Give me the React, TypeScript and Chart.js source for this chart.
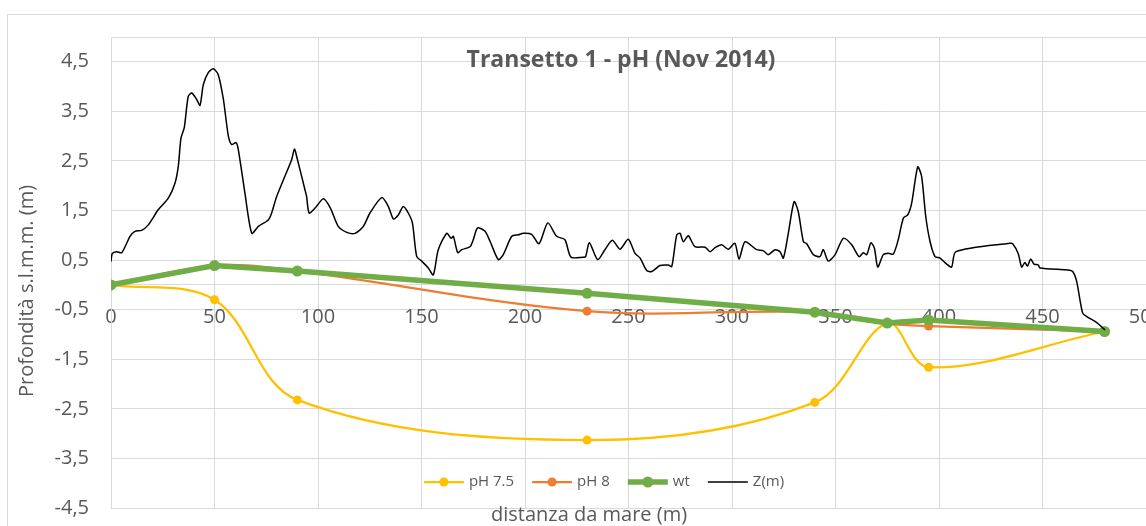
import React, { useEffect, useRef } from 'react';
import { Chart, registerables } from 'chart.js';

Chart.register(...registerables);

const FONT = "'Open Sans', 'Noto Sans', sans-serif";
const TEXT = '#595959';
const GRID = '#d9d9d9';

const TITLE = 'Transetto 1 - pH (Nov 2014)';
const X_TITLE = 'distanza da mare (m)';
const Y_TITLE = 'Profondità s.l.m.m. (m)';

// sampling distances of the pH / water-table profiles (m)
const phDist = [0, 50, 90, 230, 340, 375, 395, 480];
const ph75 = [0, -0.3, -2.32, -3.13, -2.37, -0.77, -1.66, -0.94];
const ph8 = [0, 0.39, 0.28, -0.53, -0.55, -0.78, -0.83, -0.94];
const wt = [0, 0.39, 0.28, -0.17, -0.55, -0.77, -0.71, -0.94];

// topographic profile Z(m)
const zDist = [
  0, 0.6, 2.7, 5.2, 9.2, 11.6, 14.8, 18.0, 22.9, 27.7, 30.9, 32.5, 33.8, 35.4, 37.3, 39.0, 41.4, 43.0, 44.6, 47.0,
  49.4, 51.8, 54.3, 56.7, 58.3, 60.4, 61.5, 64.7, 68.0, 71.2, 76.0, 77.6, 80.0, 84.0, 87.3, 88.6, 89.7, 93.7, 94.5, 95.7,
  98.6, 102.6, 106.0, 109.8, 113.9, 117.9, 121.9, 125.1, 130.8, 134.0, 136.4, 138.8, 141.2, 143.6, 145.6, 147.7, 150.1, 153.3, 155.7, 158.1,
  162.2, 164.3, 165.4, 167.5, 169.4, 173.4, 175.0, 177.1, 180.7, 183.1, 187.1, 189.5, 193.6, 196.8, 199.2, 203.2, 206.8, 211.0, 215.3, 219.3,
  222.2, 228.2, 229.3, 231.1, 235.1, 238.6, 242.2, 245.9, 249.9, 253.1, 255.6, 258.8, 261.2, 265.2, 269.2, 270.9, 273.3, 274.9, 276.5, 278.9,
  282.1, 287.0, 289.4, 291.8, 295.0, 298.2, 301.4, 303.4, 306.3, 311.9, 315.1, 317.5, 320.8, 323.2, 324.8, 327.2, 330.0, 332.0, 334.5, 336.1,
  339.3, 342.5, 344.1, 346.5, 349.8, 353.8, 357.8, 361.4, 363.4, 365.1, 367.1, 368.8, 370.4, 373.1, 375.5, 377.9, 380.3, 382.8, 384.9, 386.8,
  389.7, 391.6, 393.6, 395.7, 398.1, 400.5, 403.7, 406.1, 408.2, 434.3, 435.6, 438.3, 439.9, 441.5, 442.7, 444.3, 445.9, 448.0, 448.8, 462.5,
  464.6, 466.5, 469.4, 471.4, 476.2, 480.2,
];
const zElev = [
  0.47, 0.63, 0.67, 0.65, 0.98, 1.08, 1.10, 1.21, 1.52, 1.75, 2.05, 2.39, 2.96, 3.17, 3.80, 3.87, 3.74, 3.62, 4.04, 4.28,
  4.36, 4.24, 3.74, 3.00, 2.83, 2.87, 2.73, 1.85, 1.04, 1.18, 1.31, 1.45, 1.78, 2.19, 2.53, 2.74, 2.59, 1.92, 1.78, 1.45,
  1.55, 1.74, 1.55, 1.18, 1.06, 1.04, 1.18, 1.45, 1.76, 1.58, 1.33, 1.41, 1.58, 1.45, 1.25, 0.57, 0.48, 0.34, 0.20, 0.71,
  1.04, 0.94, 0.98, 0.65, 0.71, 0.77, 0.91, 1.15, 1.08, 0.88, 0.51, 0.61, 0.98, 1.01, 1.04, 1.02, 0.83, 1.25, 0.98, 0.91,
  0.56, 0.56, 0.57, 0.85, 0.51, 0.71, 0.90, 0.72, 0.92, 0.64, 0.54, 0.29, 0.27, 0.39, 0.40, 0.37, 1.01, 1.04, 0.87, 0.99,
  0.77, 0.76, 0.67, 0.75, 0.81, 0.72, 0.84, 0.52, 0.87, 0.71, 0.69, 0.61, 0.71, 0.67, 0.54, 1.04, 1.68, 1.48, 0.87, 0.83,
  0.61, 0.57, 0.71, 0.48, 0.61, 0.94, 0.81, 0.57, 0.65, 0.61, 0.85, 0.74, 0.36, 0.61, 0.64, 0.62, 0.91, 1.35, 1.41, 1.65,
  2.38, 2.19, 1.38, 0.87, 0.57, 0.54, 0.42, 0.36, 0.67, 0.84, 0.83, 0.63, 0.36, 0.45, 0.38, 0.52, 0.42, 0.40, 0.34, 0.30,
  0.27, 0.07, -0.57, -0.64, -0.76, -0.91,
];

const yTickValues = [-4.5, -3.5, -2.5, -1.5, -0.5, 0.5, 1.5, 2.5, 3.5, 4.5];
const yTickLabels = ['-4,5', '-3,5', '-2,5', '-1,5', '-0,5', '0,5', '1,5', '2,5', '3,5', '4,5'];
const yGridValues = [-4.5, -3.5, -2.5, -1.5, -0.5, 0, 0.5, 1.5, 2.5, 3.5, 4.5, 5];

const seriesNames = ['pH 7.5', 'pH 8', 'wt', 'Z(m)'];
const seriesColors = ['#FFC000', '#ED7D31', '#70AD47', '#000000'];
const seriesWidths = [2.25, 2.25, 5.5, 1.5];
const seriesRadius = [4.5, 4.5, 5.5, 0];

const toXY = (xs: number[], ys: number[]) => xs.map((x, i) => ({ x, y: ys[i] }));

const decorPlugin = {
  id: 'decor',
  beforeDraw(chart: any) {
    const ctx = chart.ctx;
    ctx.save();
    ctx.fillStyle = '#ffffff';
    ctx.fillRect(0, 0, chart.width, chart.height);
    ctx.strokeStyle = GRID;
    ctx.lineWidth = 1;
    ctx.strokeRect(7.5, 14.5, chart.width + 20, chart.height + 20);
    ctx.restore();
  },
  afterDatasetsDraw(chart: any) {
    const ctx = chart.ctx;
    ctx.save();
    // title
    ctx.fillStyle = TEXT;
    ctx.font = `bold 23px ${FONT}`;
    ctx.textAlign = 'center';
    ctx.textBaseline = 'middle';
    ctx.fillText(TITLE, 621, 60);
    // x title
    ctx.font = `20px ${FONT}`;
    ctx.fillText(X_TITLE, 589, 515);
    // y title
    ctx.save();
    ctx.translate(27, 291);
    ctx.rotate(-Math.PI / 2);
    ctx.fillText(Y_TITLE, 0, 0);
    ctx.restore();
    // legend
    ctx.font = `15px ${FONT}`;
    const items = seriesNames.map((n) => ctx.measureText(n).width);
    const lineLen = 40;
    const gapText = 5;
    const gapItem = 18;
    const total = items.reduce((a, w) => a + lineLen + gapText + w, 0) + gapItem * (items.length - 1);
    let x = 604 - total / 2;
    const y = 482;
    ctx.textAlign = 'left';
    seriesNames.forEach((n, i) => {
      ctx.strokeStyle = seriesColors[i];
      ctx.lineWidth = seriesWidths[i];
      ctx.beginPath();
      ctx.moveTo(x, y);
      ctx.lineTo(x + lineLen, y);
      ctx.stroke();
      if (seriesRadius[i] > 0) {
        ctx.fillStyle = seriesColors[i];
        ctx.beginPath();
        ctx.arc(x + lineLen / 2, y, seriesRadius[i], 0, Math.PI * 2);
        ctx.fill();
      }
      ctx.fillStyle = TEXT;
      ctx.fillText(n, x + lineLen + gapText, y);
      x += lineLen + gapText + items[i] + gapItem;
    });
    ctx.restore();
  },
};

export default function App() {
  const ref = useRef<HTMLCanvasElement | null>(null);
  useEffect(() => {
    if (!ref.current) return;
    const chart = new Chart(ref.current, {
      type: 'line',
      data: {
        datasets: [
          {
            label: seriesNames[0],
            data: toXY(phDist, ph75),
            borderColor: seriesColors[0],
            backgroundColor: seriesColors[0],
            borderWidth: seriesWidths[0],
            pointRadius: seriesRadius[0],
            pointBorderWidth: 0,
            tension: 0.35,
            order: 4,
          },
          {
            label: seriesNames[1],
            data: toXY(phDist, ph8),
            borderColor: seriesColors[1],
            backgroundColor: seriesColors[1],
            borderWidth: seriesWidths[1],
            pointRadius: seriesRadius[1],
            pointBorderWidth: 0,
            tension: 0.35,
            order: 3,
          },
          {
            label: seriesNames[2],
            data: toXY(phDist, wt),
            borderColor: seriesColors[2],
            backgroundColor: seriesColors[2],
            borderWidth: seriesWidths[2],
            pointRadius: seriesRadius[2],
            pointBorderWidth: 0,
            tension: 0,
            order: 2,
          },
          {
            label: seriesNames[3],
            data: toXY(zDist, zElev),
            borderColor: seriesColors[3],
            backgroundColor: seriesColors[3],
            borderWidth: seriesWidths[3],
            pointRadius: 0,
            tension: 0.25,
            order: 1,
          },
        ],
      },
      options: {
        animation: false,
        responsive: false,
        devicePixelRatio: 1,
        layout: { padding: { left: 0, top: 37, right: 54, bottom: 52 } },
        plugins: {
          legend: { display: false },
          tooltip: { enabled: false },
          title: { display: false },
        },
        scales: {
          x: {
            type: 'linear',
            min: 0,
            max: 500,
            position: { y: 0 } as any,
            grid: { color: GRID, drawTicks: false },
            border: { color: GRID },
            ticks: {
              stepSize: 50,
              padding: 20,
              color: TEXT,
              font: { family: FONT, size: 20 },
              maxRotation: 0,
              autoSkip: false,
            },
          },
          y: {
            type: 'linear',
            min: -4.5,
            max: 5,
            afterBuildTicks: (s: any) => {
              s.ticks = yGridValues.map((v) => ({ value: v }));
            },
            afterFit: (s: any) => {
              s.width = 111;
            },
            grid: { color: GRID, drawTicks: false },
            border: { display: true, color: GRID },
            ticks: {
              padding: 22,
              color: TEXT,
              autoSkip: false,
              font: { family: FONT, size: 20 },
              callback: (v: any) => {
                const i = yTickValues.indexOf(Number(v));
                return i >= 0 ? yTickLabels[i] : '';
              },
            },
          },
        },
      } as any,
      plugins: [decorPlugin],
    });
    return () => chart.destroy();
  }, []);

  return (
    <div
      style={{
        position: 'fixed',
        left: 0,
        top: 0,
        width: 1146,
        height: 526,
        overflow: 'hidden',
        background: '#fff',
      }}
    >
      <canvas ref={ref} width={1200} height={560} style={{ display: 'block', width: 1200, height: 560 }} />
    </div>
  );
}
